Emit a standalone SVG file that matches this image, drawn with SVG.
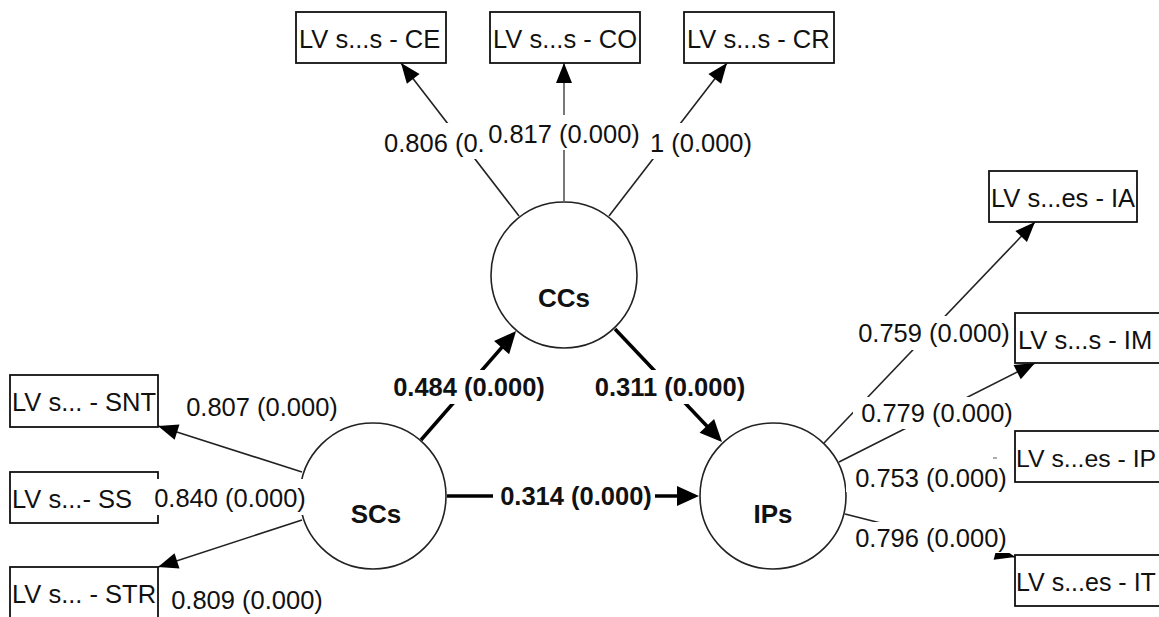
<svg xmlns="http://www.w3.org/2000/svg" width="1159" height="617" viewBox="0 0 1159 617">
<style>
.box{fill:#fff;stroke:#111;stroke-width:1.8}
.lv{fill:#fff;stroke:#222;stroke-width:1.6}
.bt{font-family:"Liberation Sans",Arial,sans-serif;font-size:25.5px;fill:#111}
.nm{font-family:"Liberation Sans",Arial,sans-serif;font-size:26px;font-weight:bold;fill:#111;text-anchor:middle}
.ln{stroke:#222;stroke-width:1.6;fill:none;marker-end:url(#ah)}
.lg{stroke:#777;stroke-width:2;fill:none;marker-end:url(#ah)}
.lb{stroke:#000;stroke-width:3.5;fill:none;marker-end:url(#ahB)}
.bg{fill:#fff}
.lt{font-family:"Liberation Sans",Arial,sans-serif;font-size:25.5px;fill:#111}
.lbt{font-family:"Liberation Sans",Arial,sans-serif;font-size:25.5px;font-weight:bold;fill:#111;text-anchor:middle}
.c{text-anchor:middle}
</style>
<defs>
<marker id="ah" markerUnits="userSpaceOnUse" markerWidth="22" markerHeight="18" refX="20" refY="8" orient="auto" overflow="visible"><path d="M0,0 L20,8 L0,16 z" fill="#000"/></marker>
<marker id="ahB" markerUnits="userSpaceOnUse" markerWidth="24" markerHeight="22" refX="12" refY="10" orient="auto" overflow="visible"><path d="M0,0 L22,10 L0,20 z" fill="#000"/></marker>
</defs>
<rect width="1159" height="617" fill="#fff"/>
<g id="connectors">
<path class="lb" d="M421,440 L509.5,338.6"/>
<path class="lb" d="M615,329 L715.1,434.7"/>
<path class="lb" d="M447,496 L689,496"/>
<path class="ln" d="M519,216 L401,63"/>
<path class="lg" d="M564,201 L564,63"/>
<path class="ln" d="M609,216 L727,63"/>
<path class="ln" d="M824,443 L1035,222"/>
<path class="ln" d="M839,462 L1035,363"/>
<path class="ln" d="M845,514 L1015,557"/>
<path d="M993,458 L997,458" stroke="#777" stroke-width="1.2"/>
<path class="ln" d="M302,472 L158,426"/>
<path class="ln" d="M302,520 L158,567"/>
</g>
<g id="node-CE"><rect class="box" x="296" y="12" width="150" height="51"/><text class="bt" x="299" y="48">LV s...s - CE</text></g>
<g id="node-CO"><rect class="box" x="490" y="12" width="150" height="51"/><text class="bt" x="493" y="48">LV s...s - CO</text></g>
<g id="node-CR"><rect class="box" x="684" y="12" width="150" height="51"/><text class="bt" x="687" y="48">LV s...s - CR</text></g>
<g id="node-IA"><rect class="box" x="989" y="171" width="148" height="51"/><text class="bt" x="991" y="207">LV s...es - IA</text></g>
<g id="node-IM"><rect class="box" x="1015" y="313" width="150" height="50"/><text class="bt" x="1018" y="349">LV s...s - IM</text></g>
<g id="node-IP"><rect class="box" x="1015" y="431" width="150" height="51"/><text class="bt" x="1016" y="467" style="font-size:24.8px">LV s...es - IP</text></g>
<g id="node-IT"><rect class="box" x="1015" y="555" width="150" height="51"/><text class="bt" x="1016" y="591" style="font-size:25px">LV s...es - IT</text></g>
<g id="node-SNT"><rect class="box" x="10" y="375" width="148" height="52"/><text class="bt" x="12" y="411">LV s... - SNT</text></g>
<g id="node-SSC"><rect class="box" x="10" y="472" width="148" height="51"/><text class="bt" x="12" y="508">LV s...- SS</text></g>
<g id="node-STR"><rect class="box" x="10" y="567" width="148" height="52"/><text class="bt" x="12" y="603">LV s... - STR</text></g>
<g id="node-CCs"><circle class="lv" cx="564" cy="275" r="73"/><text class="nm" x="564" y="307">CCs</text></g>
<g id="node-SCs"><circle class="lv" cx="373" cy="496" r="73"/><text class="nm" x="376" y="523">SCs</text></g>
<g id="node-IPs"><circle class="lv" cx="773" cy="496" r="73"/><text class="nm" x="773" y="523">IPs</text></g>
<g id="edge-labels">
<rect class="bg" x="382" y="123" width="107" height="36"/><text class="lt" x="384" y="152">0.806 (0.</text>
<rect class="bg" x="488" y="115" width="153" height="35"/><text class="lt c" x="564" y="143">0.817 (0.000)</text>
<rect class="bg" x="641" y="123" width="113" height="36"/><text class="lt" x="752" y="152" text-anchor="end">1 (0.000)</text>
<rect class="bg" x="856" y="316" width="156" height="34"/><text class="lt c" x="934" y="342">0.759 (0.000)</text>
<rect class="bg" x="853" y="397" width="161" height="32"/><text class="lt c" x="937" y="422">0.779 (0.000)</text>
<rect class="bg" x="846" y="464" width="162" height="28"/><text class="lt c" x="931" y="487">0.753 (0.000)</text>
<rect class="bg" x="852" y="522" width="158" height="31"/><text class="lt c" x="931" y="547">0.796 (0.000)</text>
<rect class="bg" x="185" y="394" width="154" height="28"/><text class="lt c" x="262" y="416">0.807 (0.000)</text>
<rect class="bg" x="155" y="479" width="152" height="36"/><text class="lt c" x="230" y="507">0.840 (0.000)</text>
<rect class="bg" x="170" y="586" width="154" height="28"/><text class="lt c" x="247" y="609">0.809 (0.000)</text>
<rect class="bg" x="392" y="370" width="155" height="34"/><text class="lbt" x="469" y="396">0.484 (0.000)</text>
<rect class="bg" x="594" y="370" width="154" height="34"/><text class="lbt" x="670" y="396">0.311 (0.000)</text>
<rect class="bg" x="493" y="481" width="162" height="32"/><text class="lbt" x="576" y="505">0.314 (0.000)</text>
</g>
</svg>
